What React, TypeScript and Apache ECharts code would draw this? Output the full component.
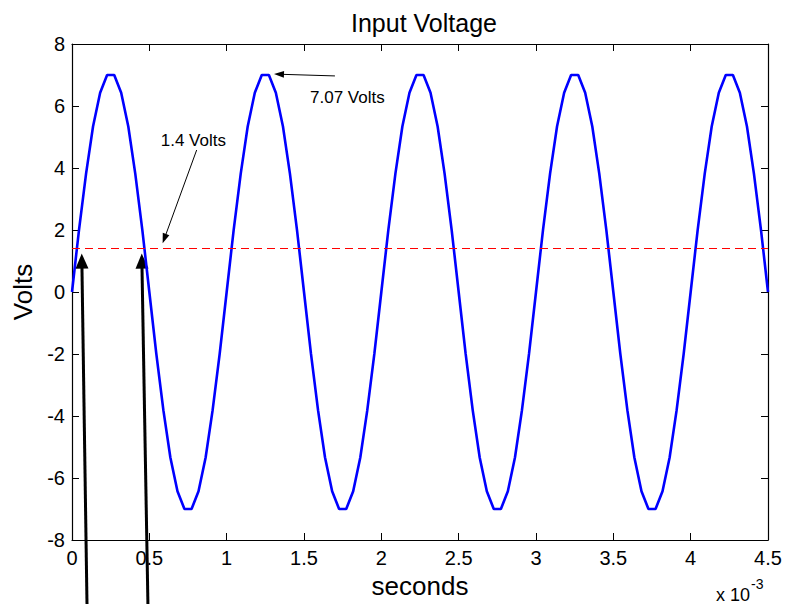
import React, { useEffect, useRef } from "react";
import * as echarts from "echarts";

const FONT = '"Liberation Sans", Arial, Helvetica, sans-serif';

// time in milliseconds (axis shows ×10^-3 s)
const timeMs = [
  0, 0.045, 0.091, 0.136, 0.182, 0.227, 0.273, 0.318, 0.364, 0.409, 0.455, 0.5, 0.545, 0.591, 0.636, 0.682, 0.727, 0.773, 0.818, 0.864, 0.909, 0.955,
  1, 1.045, 1.091, 1.136, 1.182, 1.227, 1.273, 1.318, 1.364, 1.409, 1.455, 1.5, 1.545, 1.591, 1.636, 1.682, 1.727, 1.773, 1.818, 1.864, 1.909, 1.955,
  2, 2.045, 2.091, 2.136, 2.182, 2.227, 2.273, 2.318, 2.364, 2.409, 2.455, 2.5, 2.545, 2.591, 2.636, 2.682, 2.727, 2.773, 2.818, 2.864, 2.909, 2.955,
  3, 3.045, 3.091, 3.136, 3.182, 3.227, 3.273, 3.318, 3.364, 3.409, 3.455, 3.5, 3.545, 3.591, 3.636, 3.682, 3.727, 3.773, 3.818, 3.864, 3.909, 3.955,
  4, 4.045, 4.091, 4.136, 4.182, 4.227, 4.273, 4.318, 4.364, 4.409, 4.455, 4.5,
];

const volts = [
  0, 1.99, 3.82, 5.34, 6.43, 7.0, 7.0, 6.43, 5.34, 3.82, 1.99, 0, -1.99, -3.82, -5.34, -6.43, -7.0, -7.0, -6.43, -5.34, -3.82, -1.99,
  0, 1.99, 3.82, 5.34, 6.43, 7.0, 7.0, 6.43, 5.34, 3.82, 1.99, 0, -1.99, -3.82, -5.34, -6.43, -7.0, -7.0, -6.43, -5.34, -3.82, -1.99,
  0, 1.99, 3.82, 5.34, 6.43, 7.0, 7.0, 6.43, 5.34, 3.82, 1.99, 0, -1.99, -3.82, -5.34, -6.43, -7.0, -7.0, -6.43, -5.34, -3.82, -1.99,
  0, 1.99, 3.82, 5.34, 6.43, 7.0, 7.0, 6.43, 5.34, 3.82, 1.99, 0, -1.99, -3.82, -5.34, -6.43, -7.0, -7.0, -6.43, -5.34, -3.82, -1.99,
  0, 1.99, 3.82, 5.34, 6.43, 7.0, 7.0, 6.43, 5.34, 3.82, 1.99, 0,
];

const thresholdVolts = 1.4;

// annotation arrows in data units: [tailX, tailY, tipX, tipY]
const bigArrows = [
  [0.097, -10.1, 0.063, 1.24],
  [0.491, -10.1, 0.451, 1.24],
];
const thinArrows = [
  [0.806, 4.58, 0.586, 1.57],
  [1.7, 6.97, 1.306, 7.03],
];
const labels = [
  { text: "1.4 Volts", x: 0.5735, y: 4.9 },
  { text: "7.07 Volts", x: 1.539, y: 6.26 },
];

export default function App() {
  const ref = useRef<HTMLDivElement>(null);

  useEffect(() => {
    if (!ref.current) return;
    const chart = echarts.init(ref.current, null, { renderer: "svg" });
    const axisLine = { show: true, onZero: false, lineStyle: { color: "#000", width: 1.2 } };
    const tick = { show: true, inside: true, length: 7, lineStyle: { color: "#000", width: 1 } };
    chart.setOption({
      animation: false,
      backgroundColor: "#fff",
      title: {
        text: "Input Voltage",
        left: 419,
        top: 5,
        textAlign: "center",
        textStyle: { fontFamily: FONT, fontSize: 25, fontWeight: "normal", color: "#000" },
      },
      grid: { left: 72, top: 44, width: 696, height: 496, show: false },
      xAxis: [
        {
          type: "value",
          min: 0,
          max: 4.5,
          interval: 0.5,
          position: "bottom",
          axisLine,
          axisTick: tick,
          splitLine: { show: false },
          axisLabel: { fontFamily: FONT, fontSize: 20, color: "#000", margin: 8 },
          name: "seconds",
          nameLocation: "middle",
          nameGap: 22,
          nameTextStyle: { fontFamily: FONT, fontSize: 26, color: "#000" },
        },
        {
          type: "value",
          min: 0,
          max: 4.5,
          interval: 0.5,
          position: "top",
          axisLine,
          axisTick: tick,
          splitLine: { show: false },
          axisLabel: { show: false },
        },
      ],
      yAxis: [
        {
          type: "value",
          min: -8,
          max: 8,
          interval: 2,
          position: "left",
          axisLine,
          axisTick: tick,
          splitLine: { show: false },
          axisLabel: { fontFamily: FONT, fontSize: 20, color: "#000", margin: 7 },
          name: "Volts",
          nameLocation: "middle",
          nameGap: 33,
          nameTextStyle: { fontFamily: FONT, fontSize: 26, color: "#000" },
        },
        {
          type: "value",
          min: -8,
          max: 8,
          interval: 2,
          position: "right",
          axisLine,
          axisTick: tick,
          splitLine: { show: false },
          axisLabel: { show: false },
        },
      ],
      series: [
        {
          type: "line",
          data: timeMs.map((t, i) => [t, volts[i]]),
          showSymbol: false,
          symbol: "none",
          lineStyle: { color: "#0000ff", width: 2.6 },
          markLine: {
            silent: true,
            symbol: "none",
            label: { show: false },
            lineStyle: { color: "#ff0000", width: 1.2, type: [8, 5] },
            data: [{ yAxis: thresholdVolts }],
          },
        },
      ],
    });

    const px = (x: number, y: number) => chart.convertToPixel({ gridIndex: 0 }, [x, y]) as number[];
    const graphics: any[] = [];
    const arrow = (a: number[], lw: number, L: number, W: number) => {
      const [tx, ty] = px(a[0], a[1]);
      const [hx, hy] = px(a[2], a[3]);
      const dx = hx - tx, dy = hy - ty;
      const len = Math.hypot(dx, dy);
      const ux = dx / len, uy = dy / len;
      const nx = -uy, ny = ux;
      const bx = hx - ux * L, by = hy - uy * L;
      graphics.push({
        type: "line",
        silent: true,
        shape: { x1: tx, y1: ty, x2: bx + ux * 2, y2: by + uy * 2 },
        style: { stroke: "#000", lineWidth: lw },
      });
      graphics.push({
        type: "polygon",
        silent: true,
        shape: { points: [[hx, hy], [bx + nx * W, by + ny * W], [bx - nx * W, by - ny * W]] },
        style: { fill: "#000", stroke: "none" },
      });
    };
    bigArrows.forEach((a) => arrow(a, 3, 15, 6.5));
    thinArrows.forEach((a) => arrow(a, 1, 10, 3.5));
    labels.forEach((l) => {
      const [x, y] = px(l.x, l.y);
      graphics.push({
        type: "text",
        silent: true,
        x,
        y,
        style: { text: l.text, font: `17px ${FONT}`, fill: "#000", align: "left", verticalAlign: "middle" },
      });
    });
    graphics.push({
      type: "text",
      silent: true,
      x: 716,
      y: 595,
      style: { text: "x 10", font: `18px ${FONT}`, fill: "#000", align: "left", verticalAlign: "middle" },
    });
    graphics.push({
      type: "text",
      silent: true,
      x: 751,
      y: 584,
      style: { text: "-3", font: `14px ${FONT}`, fill: "#000", align: "left", verticalAlign: "middle" },
    });
    chart.setOption({ graphic: graphics });

    return () => chart.dispose();
  }, []);

  return (
    <div
      ref={ref}
      style={{ position: "fixed", left: 0, top: 0, width: 797, height: 604, background: "#fff" }}
    />
  );
}
